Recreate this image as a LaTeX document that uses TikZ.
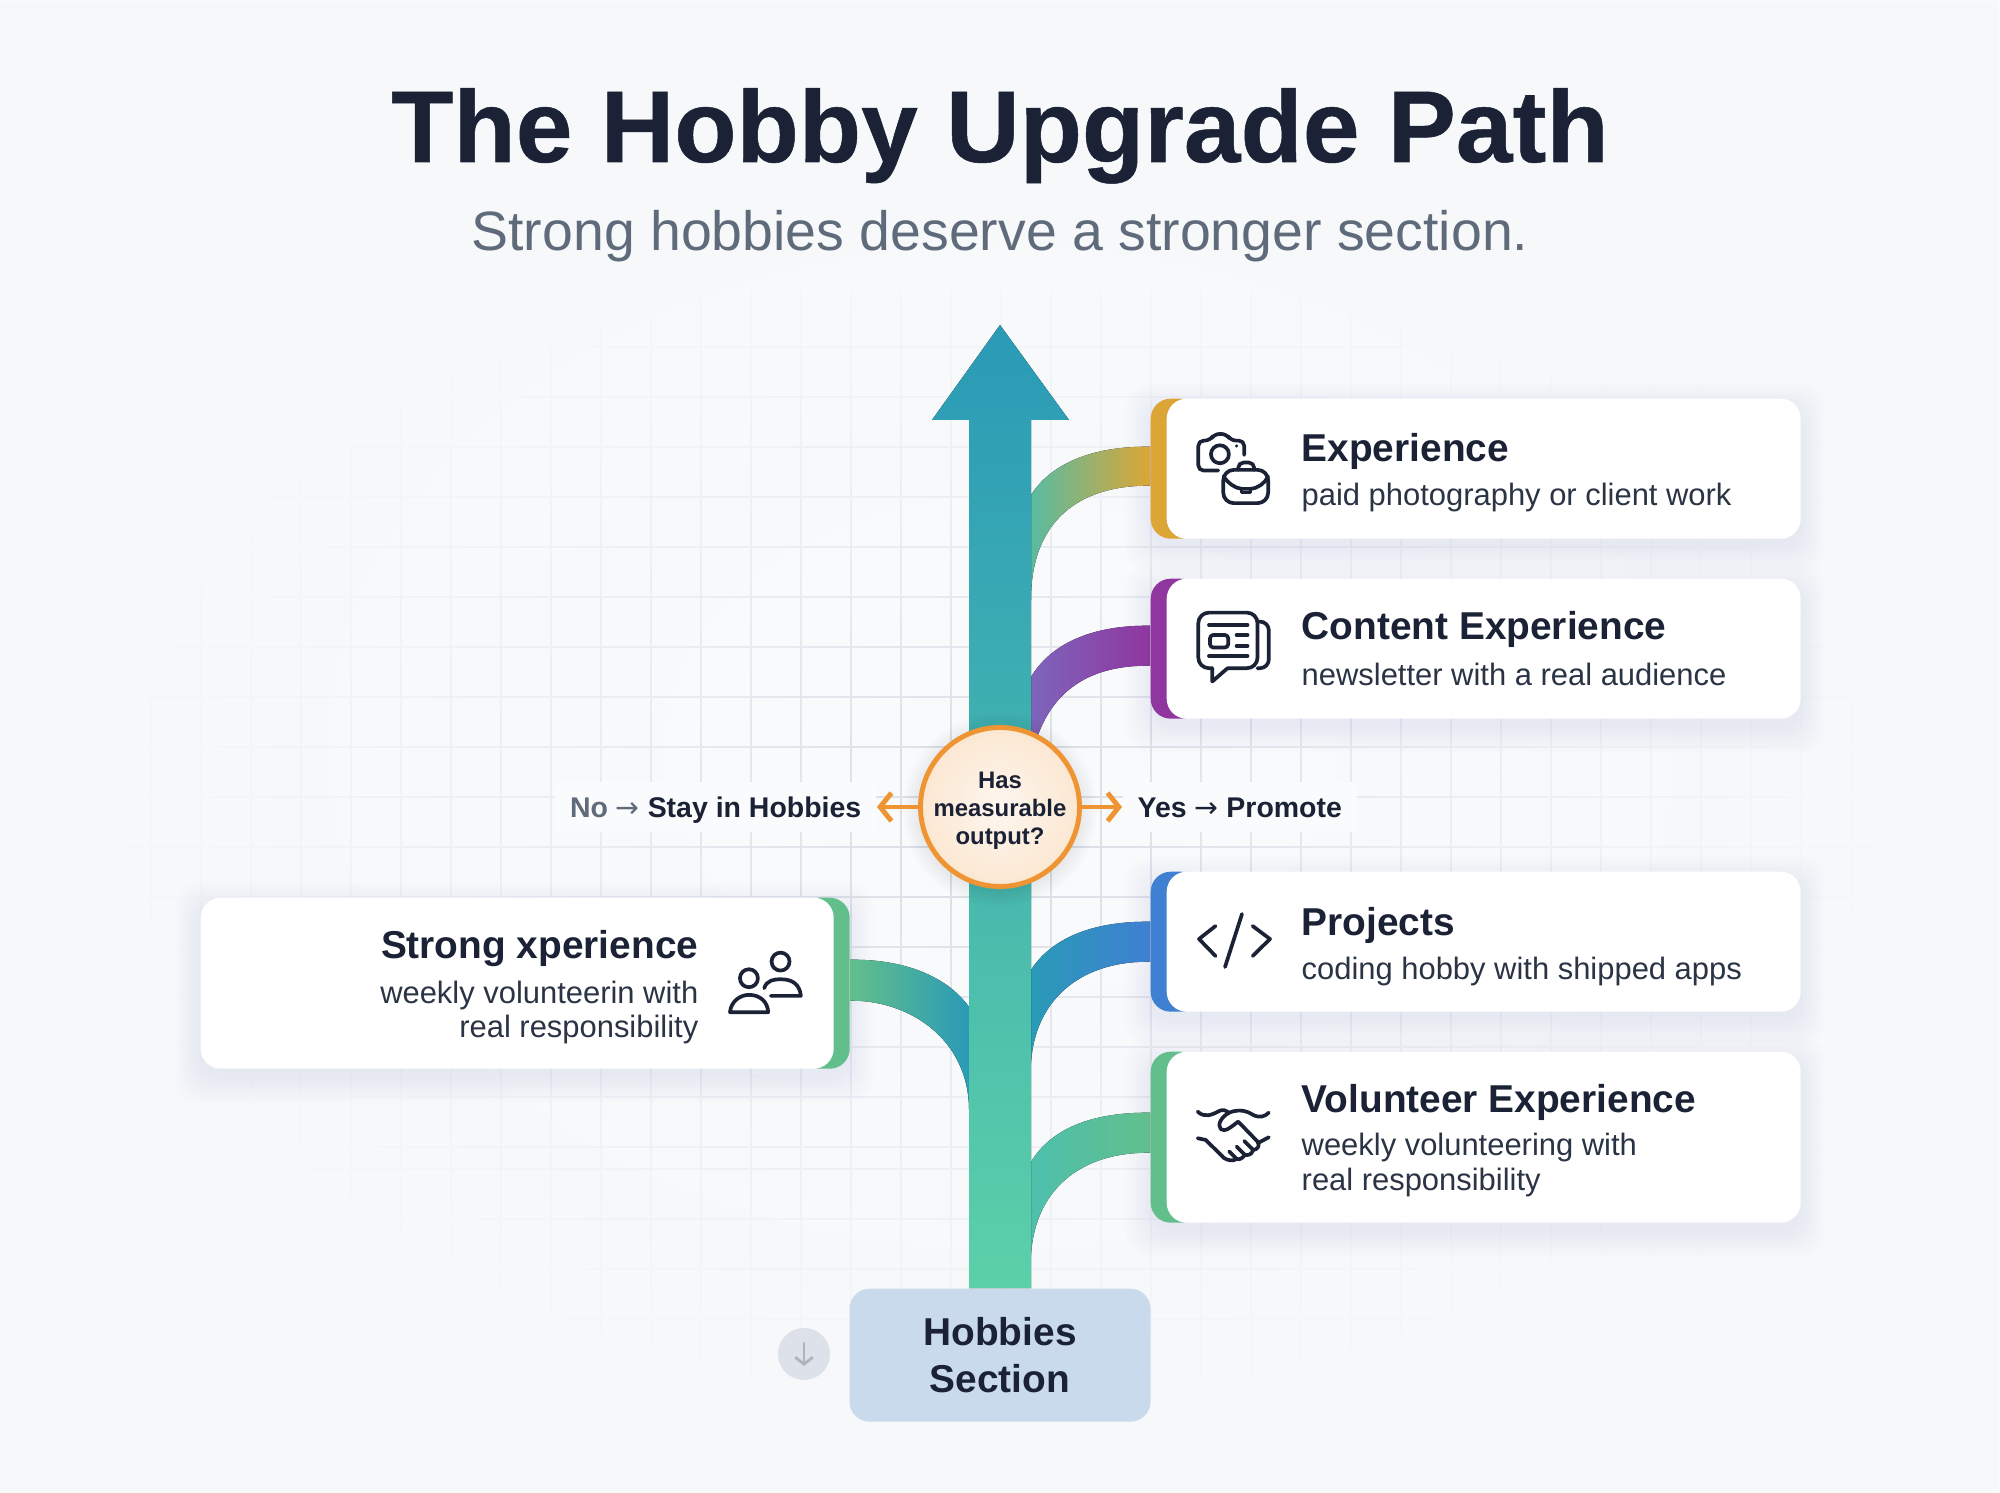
\documentclass[tikz,border=0pt]{standalone}
\usepackage{fontspec}
\setmainfont{Liberation Sans}
\newfontfamily\titlefont[FakeBold=0.5]{Liberation Sans Bold}
\newfontfamily\arrowfont{DejaVu Sans}
\usetikzlibrary{arrows.meta, calc, fadings}

\definecolor{pagebg}{HTML}{F9FBFC}
\definecolor{pageedge}{HTML}{F6F8FA}
\definecolor{gridline}{HTML}{D5DAE3}
\definecolor{inkdark}{HTML}{1B2235}
\definecolor{inksoft}{HTML}{2B3445}
\definecolor{inkgray}{HTML}{5F6B7A}
\definecolor{shafttop}{HTML}{2A9AB7}
\definecolor{shaftbottom}{HTML}{5CD0A8}
\definecolor{goldaccent}{HTML}{DCA636}
\definecolor{purpleaccent}{HTML}{8F369F}
\definecolor{blueaccent}{HTML}{3F80D2}
\definecolor{greenaccent}{HTML}{62BF8C}
\definecolor{decisionorange}{HTML}{EE9432}
\definecolor{hobbiesblue}{HTML}{C9DAED}

\tikzfading[name=gridfade, inner color=transparent!100, outer color=transparent!0]

\tikzset{
    cardbody/.style={rectangle, rounded corners=.2cm, fill=white, inner sep=0pt, anchor=north west},
    cardaccent/.style={rectangle, rounded corners=.2cm, inner sep=0pt, anchor=north west},
    cardtitle/.style={font=\fontsize{11.05}{13}\selectfont\bfseries, text=inkdark, inner sep=0pt},
    cardsub/.style={font=\fontsize{8.8}{10}\selectfont, text=inksoft, inner sep=0pt},
    iconline/.style={draw=inkdark, line width=1.05pt, line cap=round, line join=round},
    sidelabel/.style={fill=pagebg, font=\fontsize{8.1}{9}\selectfont\bfseries, inner xsep=.15cm, inner ysep=0pt, text height=6.7pt, text depth=1pt, minimum height=.5cm},
    decisionarrow/.style={draw=decisionorange, line width=1.4pt, line cap=round, -{Straight Barb[length=3.2pt, width=8pt, line width=1.4pt]}},
}

% soft shadow under a card
\newcommand{\cardshadow}[4]{
    \foreach \g in {0,...,7}{
        \fill[black!60!blue!50!white, opacity=.011, rounded corners=.24cm]
            (#1-\g*.035,#2+.1-\g*.035) rectangle (#3+\g*.035,#4+.1+\g*.035);
    }
}

\begin{document}
\begin{tikzpicture}[x=1cm, y=-1cm]
    \useasboundingbox (0,0) rectangle (20,14.93);
    \fill[pagebg] (0,0) rectangle (20,14.93);

    % grid
    \foreach \gx in {0,...,34}{
        \draw[gridline, line width=.48pt] (1.51+\gx*.5,2.9) -- (1.51+\gx*.5,13.8);
    }
    \foreach \gy in {0,...,16}{
        \draw[gridline, line width=.6pt] (1,3.47+\gy*.5) -- (19,3.47+\gy*.5);
    }
    \foreach \gy in {0,...,3}{
        \draw[gridline, line width=.6pt] (1,11.69+\gy*.5) -- (19,11.69+\gy*.5);
    }
    \fill[pagebg, path fading=gridfade, fit fading=true] (-2,1.6) rectangle (22,16);
    \fill[pageedge, path fading=gridfade, fit fading=true] (0,0) rectangle (20,14.93);

    % title
    \node[font=\fontsize{29}{32}\selectfont\titlefont, text=inkdark, anchor=base, inner sep=0pt] (title) at (10,1.62) {The Hobby Upgrade Path};
    \node[font=\fontsize{15.77}{18}\selectfont, text=inkgray, anchor=base, inner sep=0pt] (subtitle) at (10,2.51) {Strong hobbies deserve a stronger section.};

    % cards
    \cardshadow{11.5}{3.98}{18}{5.38}
    \node[cardaccent, fill=goldaccent, minimum width=.5cm, minimum height=1.4cm] (expaccent) at (11.5,3.98) {};
    \node[cardbody, minimum width=6.34cm, minimum height=1.4cm] (expcard) at (11.66,3.98) {};
    \cardshadow{11.5}{5.78}{18}{7.18}
    \node[cardaccent, fill=purpleaccent, minimum width=.5cm, minimum height=1.4cm] (contentaccent) at (11.5,5.78) {};
    \node[cardbody, minimum width=6.34cm, minimum height=1.4cm] (contentcard) at (11.66,5.78) {};
    \cardshadow{11.5}{8.71}{18}{10.11}
    \node[cardaccent, fill=blueaccent, minimum width=.5cm, minimum height=1.4cm] (projaccent) at (11.5,8.71) {};
    \node[cardbody, minimum width=6.34cm, minimum height=1.4cm] (projcard) at (11.66,8.71) {};
    \cardshadow{11.5}{10.51}{18}{12.22}
    \node[cardaccent, fill=greenaccent, minimum width=.5cm, minimum height=1.71cm] (volaccent) at (11.5,10.51) {};
    \node[cardbody, minimum width=6.34cm, minimum height=1.71cm] (volcard) at (11.66,10.51) {};
    \cardshadow{2}{8.97}{8.49}{10.68}
    \node[cardaccent, fill=greenaccent, minimum width=.5cm, minimum height=1.71cm] (strongaccent) at (7.99,8.97) {};
    \node[cardbody, minimum width=6.33cm, minimum height=1.71cm] (strongcard) at (2,8.97) {};

    % branches
    \fill[left color=shafttop!35!shaftbottom!90!goldaccent, right color=goldaccent] ($(expaccent.west)+(0,-.22)$) .. controls (10.9,4.46) and (10.5,4.65) .. (10.31,4.95) -- (10.31,6) .. controls (10.31,5.2) and (10.8,4.85) .. ($(expaccent.west)+(0,.17)$) -- cycle;
    \fill[left color=purpleaccent!60!blueaccent!90!white, right color=purpleaccent] ($(contentaccent.west)+(0,-.23)$) .. controls (10.9,6.25) and (10.5,6.45) .. (10.31,6.77) -- (10.31,7.6) .. controls (10.45,6.9) and (10.9,6.65) .. ($(contentaccent.west)+(0,.17)$) -- cycle;
    \fill[left color=shafttop, right color=blueaccent] ($(projaccent.west)+(0,-.20)$) .. controls (10.9,9.21) and (10.5,9.4) .. (10.31,9.7) -- (10.31,10.63) .. controls (10.35,10.0) and (10.8,9.61) .. ($(projaccent.west)+(0,.20)$) -- cycle;
    \fill[left color=shaftbottom!70!shafttop, right color=greenaccent] ($(volaccent.west)+(0,-.245)$) .. controls (10.9,11.12) and (10.5,11.3) .. (10.31,11.62) -- (10.31,12.55) .. controls (10.35,11.9) and (10.8,11.52) .. ($(volaccent.west)+(0,.155)$) -- cycle;
    \fill[left color=greenaccent, right color=shafttop] ($(strongaccent.east)+(0,-.235)$) .. controls (9.1,9.59) and (9.5,9.8) .. (9.69,10.07) -- (9.69,11.1) .. controls (9.69,10.4) and (9.1,10.0) .. ($(strongaccent.east)+(0,.175)$) -- cycle;

    % trunk
    \node[rectangle, rounded corners=.2cm, fill=hobbiesblue, minimum width=3.01cm, minimum height=1.33cm, anchor=north, inner sep=0pt, align=center, font=\fontsize{11.05}{13.2}\selectfont\bfseries, text=inkdark] (hobbies) at (10,12.88) {Hobbies\\Section};
    \coordinate (tip) at (10,3.25);
    \fill[top color=shafttop, bottom color=shaftbottom] ($(hobbies.north)+(-.31,0)$) -- ($(tip)+(-.31,.95)$) -- ($(tip)+(-.68,.95)$) -- (tip) -- ($(tip)+(.69,.95)$) -- ($(tip)+(.31,.95)$) -- ($(hobbies.north)+(.31,0)$) -- cycle;

    % decision
    \foreach \g in {0,...,5}{
        \fill[black, opacity=.012] (10,8.1) circle (.82+\g*.03);
    }
    \node[circle, draw=decisionorange, line width=1.4pt, inner color=white!80!decisionorange!40, outer color=decisionorange!22!white, minimum size=1.59cm, inner sep=0pt] (decision) at (10,8.07) {};
    \node[align=center, inner sep=0pt, font=\fontsize{6.8}{7.9}\selectfont\bfseries, text=inkdark] (decisiontext) at (10,8.11) {Has\\measurable\\output?};
    \node[sidelabel, anchor=east] (nolabel) at (8.77,8.07) {\textcolor{inkgray}{No {\arrowfont\mdseries →}} \textcolor{inkdark}{Stay in Hobbies}};
    \node[sidelabel, anchor=west] (yeslabel) at (11.22,8.07) {\textcolor{inkdark}{Yes {\arrowfont\mdseries →} Promote}};
    \draw[decisionarrow] (decision) -- (nolabel);
    \draw[decisionarrow] (decision) -- (yeslabel);

    % hint
    \node[circle, fill=gridline!80!white, minimum size=.52cm, inner sep=0pt] (downhint) at (8.04,13.54) {};
    \draw[draw=inkgray!50!white, line width=.8pt, line cap=round, -{Straight Barb[length=2pt, width=5pt]}] ($(downhint.center)+(0,-.11)$) -- ($(downhint.center)+(0,.12)$);

    % card texts
    \node[cardtitle, anchor=base west] (exptitle) at (13.01,4.62) {Experience};
    \node[cardsub, anchor=base west] (expsub) at (13.01,5.06) {paid photography or client work};
    \node[cardtitle, anchor=base west] (contenttitle) at (13.01,6.40) {Content Experience};
    \node[cardsub, anchor=base west] (contentsub) at (13.01,6.85) {newsletter with a real audience};
    \node[cardtitle, anchor=base west] (projtitle) at (13.01,9.35) {Projects};
    \node[cardsub, anchor=base west] (projsub) at (13.01,9.79) {coding hobby with shipped apps};
    \node[cardtitle, anchor=base west] (voltitle) at (13.01,11.12) {Volunteer Experience};
    \node[cardsub, anchor=base west] (volsub) at (13.01,11.55) {weekly volunteering with};
    \node[cardsub, anchor=base west] (volsubb) at (13.01,11.90) {real responsibility};
    \node[cardtitle, anchor=base east] (strongtitle) at (6.99,9.58) {Strong xperience};
    \node[cardsub, anchor=base east] (strongsub) at (6.99,10.03) {weekly volunteerin with};
    \node[cardsub, anchor=base east] (strongsubb) at (6.99,10.37) {real responsibility};

    % camera and briefcase
    \begin{scope}[shift={(11.85,4.20)}, x=.00333cm, y=-.00333cm]
        \draw[iconline, rounded corners=1.5pt] (178,105) -- (178,62) -- (138,62) -- (125,42) -- (88,42) -- (75,62) -- (40,62) -- (40,152) -- (100,152);
        \draw[iconline] (105,103) circle (27);
        \fill[inkdark] (155,78) circle (5);
        \draw[iconline, rounded corners=3pt] (115,150) rectangle (250,250);
        \draw[iconline, rounded corners=1.5pt] (160,150) -- (160,128) -- (208,128) -- (208,150);
        \draw[iconline] (116,170) .. controls (130,190) and (150,205) .. (170,207) -- (197,207) .. controls (220,205) and (240,190) .. (250,170);
        \draw[iconline] (170,207) -- (170,218) -- (197,218) -- (197,207);
    \end{scope}
    % newspaper bubble
    \begin{scope}[shift={(11.85,6.00)}, x=.00333cm, y=-.00333cm]
        \draw[iconline, rounded corners=3pt] (128,205) -- (218,205) -- (218,38) -- (40,38) -- (40,205) -- (82,205);
        \draw[iconline] (82,205) -- (82,245) -- (128,205);
        \draw[iconline, rounded corners=2.5pt] (218,65) -- (252,65) -- (252,205) -- (218,205);
        \draw[iconline] (72,75) -- (188,75);
        \draw[iconline] (72,168) -- (188,168);
        \draw[iconline, rounded corners=1pt] (75,105) rectangle (130,143);
        \draw[iconline] (155,105) -- (188,105);
        \draw[iconline] (155,138) -- (188,138);
    \end{scope}
    % code brackets
    \draw[iconline] (12.155,9.26) -- (11.99,9.39) -- (12.155,9.56);
    \draw[iconline] (12.42,9.14) -- (12.25,9.67);
    \draw[iconline] (12.526,9.26) -- (12.70,9.39) -- (12.526,9.56);
    % handshake
    \begin{scope}[shift={(11.85,10.90)}, x=.00333cm, y=-.00333cm]
        \draw[iconline] (38,65) .. controls (60,85) and (80,75) .. (105,62) .. controls (115,58) and (125,62) .. (133,68) .. controls (165,55) and (190,65) .. (205,75) .. controls (225,85) and (240,80) .. (252,68);
        \draw[iconline] (133,68) .. controls (110,80) and (95,105) .. (108,118) .. controls (120,128) and (140,110) .. (160,95) -- (218,155) .. controls (228,170) and (215,180) .. (205,180) -- (178,153);
        \draw[iconline] (205,180) .. controls (200,195) and (190,197) .. (180,195) -- (155,170);
        \draw[iconline] (180,195) .. controls (172,208) and (160,210) .. (155,207) -- (133,185);
        \draw[iconline] (155,207) .. controls (145,215) and (130,212) .. (118,205) -- (62,150) -- (38,145);
        \draw[iconline] (222,158) -- (252,142);
    \end{scope}
    % people
    \begin{scope}[shift={(7.15,9.35)}, x=.00333cm, y=-.00333cm]
        \draw[iconline] (197,80) circle (27);
        \draw[iconline] (148,160) .. controls (155,135) and (180,133) .. (197,133) .. controls (235,133) and (255,150) .. (258,183) -- (168,183);
        \draw[iconline] (102,130) circle (27);
        \draw[iconline] (45,232) .. controls (48,200) and (75,180) .. (102,180) .. controls (135,180) and (158,200) .. (160,232) -- cycle;
    \end{scope}
\end{tikzpicture}
\end{document}
